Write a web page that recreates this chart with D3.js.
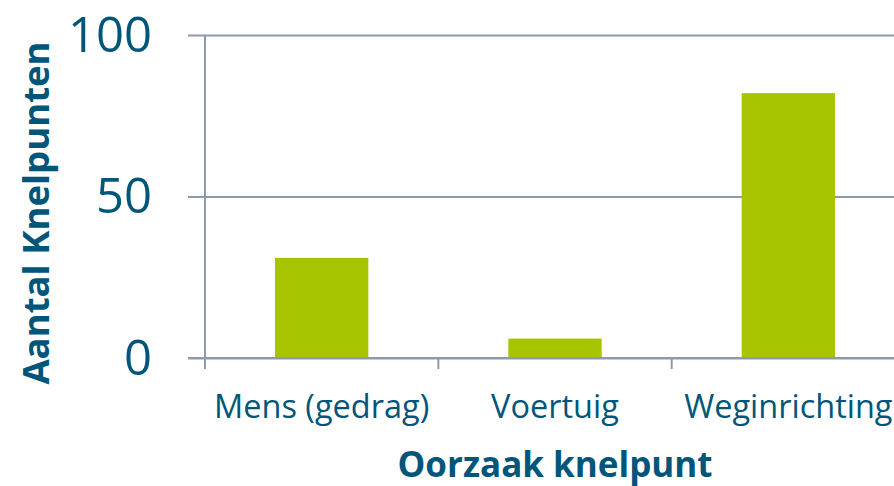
<!DOCTYPE html>
<html><head><meta charset="utf-8">
<script src="https://cdn.jsdelivr.net/npm/d3@7"></script>
<style>body{margin:0;background:#fff}svg{display:block}</style>
</head><body>
<svg id="c" width="894" height="486"></svg>
<script>
const categories = ["Mens (gedrag)", "Voertuig", "Weginrichting"];
const values = [31, 6, 82];
const yTicks = [0, 50, 100];
const yTitle = "Aantal Knelpunten";
const xTitle = "Oorzaak knelpunt";

const svg = d3.select("#c");
const textColor = "#00567A", gridColor = "#8C9AAB", barColor = "#A8C300";
const font = "'Open Sans', sans-serif";

const y = d3.scaleLinear().domain([0, 100]).range([358, 35]);
const x = d3.scaleBand().domain(categories).range([205, 905]).paddingInner(0.6).paddingOuter(0.3);

// gridlines + y labels
const yAxis = d3.axisLeft(y).tickValues(yTicks).tickSize(-(894 - 205)).tickSizeOuter(0).tickPadding(53);
const gy = svg.append("g").attr("transform", "translate(205,0)").call(yAxis);
gy.select(".domain").remove();
gy.selectAll(".tick line").attr("x1", -17).attr("x2", 894 - 205).attr("stroke", gridColor).attr("stroke-width", 2);
gy.selectAll(".tick text").attr("fill", textColor).attr("font-family", font).attr("font-size", 49).attr("dy", "0.33em");

// y axis vertical line
svg.append("line").attr("x1", 205).attr("x2", 205).attr("y1", y(100)).attr("y2", 369)
  .attr("stroke", gridColor).attr("stroke-width", 2);

// x axis ticks at band boundaries
const step = x.step();
svg.append("g").selectAll("line").data([205, 205 + step, 205 + 2 * step, 205 + 3 * step]).join("line")
  .attr("x1", d => d).attr("x2", d => d).attr("y1", y(0)).attr("y2", 369)
  .attr("stroke", gridColor).attr("stroke-width", 2);

// bars
svg.append("g").selectAll("rect").data(values).join("rect")
  .attr("x", (d, i) => x(categories[i]))
  .attr("width", x.bandwidth())
  .attr("y", d => y(d))
  .attr("height", d => y(0) - y(d) - 1)
  .attr("fill", barColor);

// redraw baseline on top
svg.append("line").attr("x1", 188).attr("x2", 894).attr("y1", y(0)).attr("y2", y(0))
  .attr("stroke", gridColor).attr("stroke-width", 2);

// x labels
svg.append("g").selectAll("text").data(categories).join("text")
  .attr("x", d => x(d) + x.bandwidth() / 2).attr("y", 418)
  .attr("text-anchor", "middle").attr("fill", textColor)
  .attr("font-family", font).attr("font-size", 32.5).text(d => d);

// axis titles
svg.append("text").attr("x", 555).attr("y", 477).attr("text-anchor", "middle")
  .attr("fill", textColor).attr("font-family", font).attr("font-weight", "bold").attr("font-size", 35)
  .text(xTitle);
svg.append("text").attr("transform", "translate(49,213) rotate(-90)").attr("text-anchor", "middle")
  .attr("fill", textColor).attr("font-family", font).attr("font-weight", "bold").attr("font-size", 36.5)
  .text(yTitle);
</script>
</body></html>
